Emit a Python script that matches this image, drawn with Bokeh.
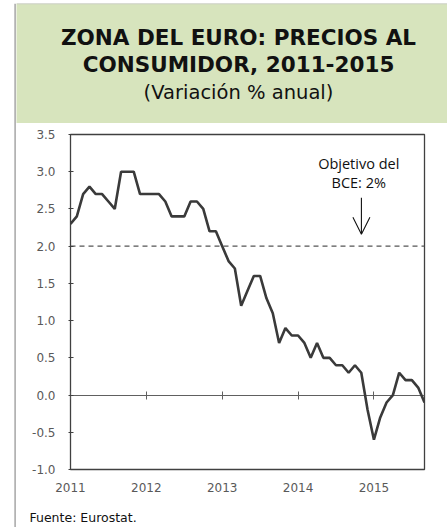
from bokeh.plotting import figure
from bokeh.layouts import row, column
from bokeh.models import (Range1d, FixedTicker, NumeralTickFormatter, LinearAxis,
                          Span, Label, Arrow, OpenHead)
from bokeh.embed import file_html
from bokeh.resources import INLINE

# ---- data: euro area HICP, annual % change, monthly Jan 2011 - Sep 2015 ----
years = [2011, 2012, 2013, 2014, 2015]
infl_2011 = [2.3, 2.4, 2.7, 2.8, 2.7, 2.7, 2.6, 2.5, 3.0, 3.0, 3.0, 2.7]
infl_2012 = [2.7, 2.7, 2.7, 2.6, 2.4, 2.4, 2.4, 2.6, 2.6, 2.5, 2.2, 2.2]
infl_2013 = [2.0, 1.8, 1.7, 1.2, 1.4, 1.6, 1.6, 1.3, 1.1, 0.7, 0.9, 0.8]
infl_2014 = [0.8, 0.7, 0.5, 0.7, 0.5, 0.5, 0.4, 0.4, 0.3, 0.4, 0.3, -0.2]
infl_2015 = [-0.6, -0.3, -0.1, 0.0, 0.3, 0.2, 0.2, 0.1, -0.1]
series = [infl_2011, infl_2012, infl_2013, infl_2014, infl_2015]
y_ticks = [-1.0, -0.5, 0.0, 0.5, 1.0, 1.5, 2.0, 2.5, 3.0, 3.5]
ecb_target = 2.0

title_1 = "ZONA DEL EURO: PRECIOS AL"
title_2 = "CONSUMIDOR, 2011-2015"
subtitle = "(Variación % anual)"
note_1 = "Objetivo del"
note_2 = "BCE: 2%"
source = "Fuente:  Eurostat."

xs = [yr + m / 12 for yr, vals in zip(years, series) for m in range(len(vals))]
ys = [v for vals in series for v in vals]

FONT = "DejaVu Sans"
TICK_COLOR = "#595959"
GREEN = "#d7e4bd"
BORDER = "#a6a6a6"

TOTAL_W, TOTAL_H = 447, 527
STRIP_W = 16
CW = TOTAL_W - STRIP_W          # 431
HEAD_H = 123
FOOT_H = 22
MAIN_H = TOTAL_H - HEAD_H - FOOT_H


def bare(width, height, xr, yr, **kw):
    f = figure(width=width, height=height, output_backend="svg", toolbar_location=None,
               x_range=xr, y_range=yr, x_axis_type=None, y_axis_type=None,
               min_border_left=0, min_border_right=0, min_border_top=0,
               min_border_bottom=0, **kw)
    f.outline_line_color = None
    f.xgrid.visible = False
    f.ygrid.visible = False
    f.border_fill_color = "white"
    f.background_fill_color = "white"
    f.frame_align = False
    return f


# ---- left strip with the grey border line ----
strip = bare(STRIP_W, TOTAL_H, Range1d(0, STRIP_W), Range1d(TOTAL_H, 3))
strip.min_border_top = 3
strip.add_layout(Span(location=14.6, dimension="height", line_color=BORDER,
                      line_width=1.5))

# ---- header ----
head = bare(CW, HEAD_H, Range1d(STRIP_W, TOTAL_W), Range1d(HEAD_H, 3))
head.min_border_top = 3
head.background_fill_color = GREEN
head.add_layout(Span(location=3, dimension="width", line_color="#c8c8c8",
                     line_width=1.5))
for txt, yy, size, style in [(title_1, 36.5, "21.5px", "bold"),
                              (title_2, 64, "21.5px", "bold"),
                              (subtitle, 92, "19.5px", "normal")]:
    head.add_layout(Label(x=238, y=yy, text=txt, text_align="center",
                          text_baseline="middle", text_font=FONT,
                          text_font_style=style, text_font_size=size,
                          text_color="#111111"))

# ---- main chart ----
p = figure(width=CW, height=MAIN_H, output_backend="svg", toolbar_location=None,
           x_range=Range1d(years[0], xs[-1]), y_range=Range1d(y_ticks[0], y_ticks[-1]),
           min_border_left=70 - STRIP_W, min_border_right=TOTAL_W - 424,
           min_border_top=134 - HEAD_H, min_border_bottom=HEAD_H + MAIN_H - 469)
p.frame_align = False
p.background_fill_color = "white"
p.border_fill_color = "white"
p.outline_line_color = "#404040"
p.outline_line_width = 1.3
p.xgrid.visible = False
p.ygrid.visible = False

ya = p.yaxis[0]
ya.ticker = FixedTicker(ticks=y_ticks)
ya.formatter = NumeralTickFormatter(format="0.0")
ya.axis_line_color = None
ya.major_tick_line_color = "#404040"
ya.major_tick_in = 3
ya.major_tick_out = 2
ya.minor_tick_line_color = None
ya.major_label_standoff = 13
ya.major_label_text_font = FONT
ya.major_label_text_font_size = "12px"
ya.major_label_text_color = TICK_COLOR

xa = p.xaxis[0]
xa.ticker = FixedTicker(ticks=years)
xa.formatter = NumeralTickFormatter(format="0")
xa.axis_line_color = None
xa.major_tick_line_color = None
xa.minor_tick_line_color = None
xa.major_tick_in = 0
xa.major_tick_out = 0
xa.major_label_standoff = 13
xa.major_label_text_font = FONT
xa.major_label_text_font_size = "12px"
xa.major_label_text_color = TICK_COLOR

# zero line with cross ticks
za = LinearAxis(fixed_location=0, ticker=FixedTicker(ticks=years))
za.axis_line_color = "#606060"
za.axis_line_width = 1.2
za.major_tick_line_color = "#606060"
za.major_tick_in = 4
za.major_tick_out = 4
za.minor_tick_line_color = None
za.major_label_text_color = None
za.major_label_text_font_size = "1px"
za.major_label_standoff = 0
za.level = "underlay"
p.add_layout(za, "above")

p.add_layout(Span(location=ecb_target, dimension="width", line_color="#555555",
                  line_width=1.3, line_dash="5 4", level="underlay"))

p.line(xs, ys, line_color="#3a3a3a", line_width=2.6)

p.add_layout(Label(x=2014.80, y=3.11, text=note_1, text_align="center",
                   text_baseline="middle", text_font="Open Sans",
                   text_font_size="14.5px", text_color="#111111"))
p.add_layout(Label(x=2014.80, y=2.86, text=note_2, text_align="center",
                   text_baseline="middle", text_font="Open Sans",
                   text_font_size="14.5px", text_color="#111111"))
p.add_layout(Arrow(end=OpenHead(size=17, line_width=1.1, line_color="#111111"),
                   x_start=2014.835, y_start=2.65, x_end=2014.835, y_end=2.16,
                   line_width=1.1, line_color="#111111"))

# ---- footer ----
foot = bare(CW, FOOT_H, Range1d(STRIP_W, TOTAL_W),
            Range1d(TOTAL_H, TOTAL_H - FOOT_H))
foot.add_layout(Label(x=29, y=517, text=source, text_align="left",
                      text_baseline="middle", text_font=FONT,
                      text_font_size="12.5px", text_color="#111111"))

layout = row(strip, column(head, p, foot, spacing=0), spacing=0)

open("out.html", "w").write(file_html(layout, INLINE))
